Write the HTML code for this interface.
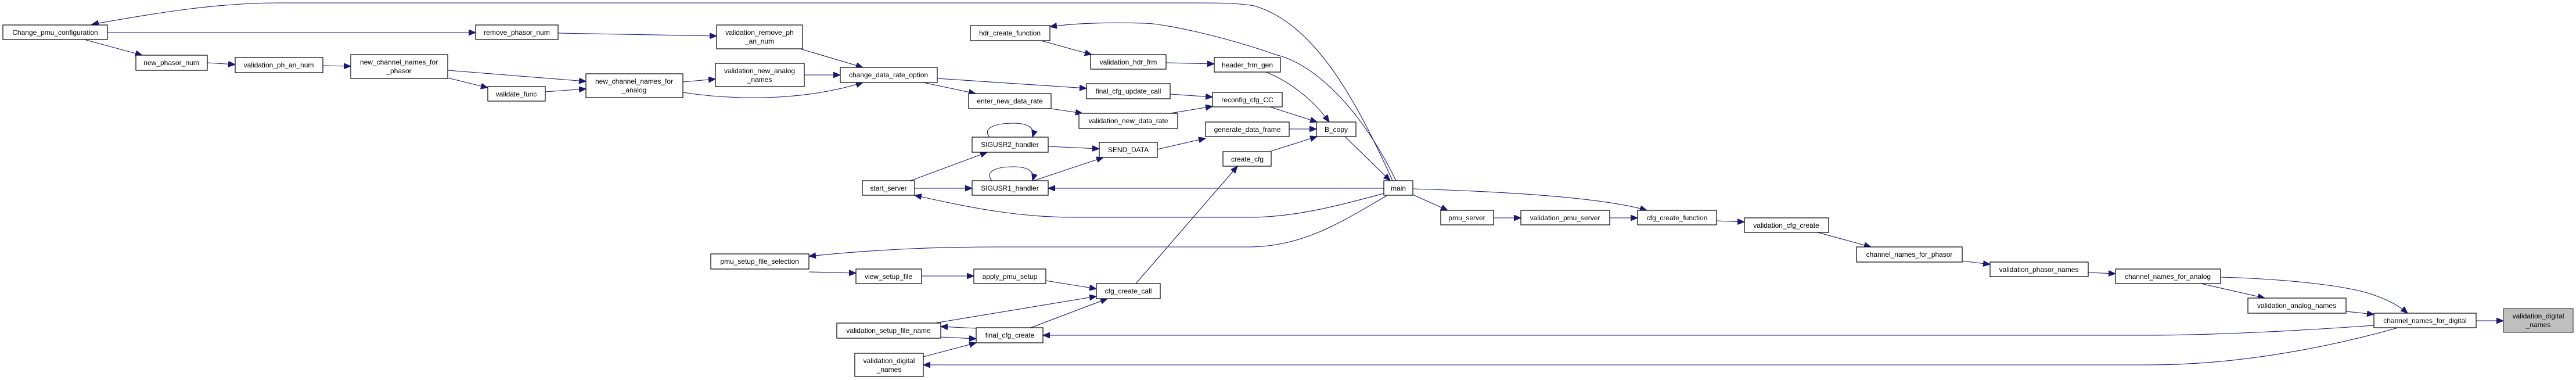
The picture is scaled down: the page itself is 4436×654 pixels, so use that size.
<!DOCTYPE html>
<html><head><meta charset="utf-8"><style>
html,body{margin:0;padding:0;background:#fff;}
svg{display:block;}
text{font-family:"Liberation Sans",Arial,sans-serif;font-size:12px;fill:#000;}
.b{fill:#fff;stroke:#000;stroke-width:1.2;}
.g{fill:#bfbfbf;stroke:#404040;stroke-width:1.2;}
path{fill:none;stroke:#191970;stroke-width:1.1;}
</style></head><body>
<svg width="4436" height="654" viewBox="0 0 4436 654" xmlns="http://www.w3.org/2000/svg">
<defs><marker id="a" markerUnits="userSpaceOnUse" markerWidth="14" markerHeight="12" refX="12" refY="5" orient="auto"><path d="M0,0 L12,5 L0,10 Z" style="fill:#191970;stroke:#191970;stroke-width:1"/></marker></defs>
<rect width="4436" height="654" fill="#fff"/>
<g marker-end="url(#a)">
<path d="M2398,311 C2330,160 2260,40 2160,10 C2130,5 2100,5 2060,5 L480,5 C380,5 280,20 158,42"/>
<path d="M185,56 L819,56"/>
<path d="M145,68 L245,95"/>
<path d="M357,108 L405,111"/>
<path d="M556,113 L604,114"/>
<path d="M771,121 L1009,140"/>
<path d="M771,134 L840,151"/>
<path d="M939,158 L1009,153"/>
<path d="M961,57 L1234,62"/>
<path d="M1378,84 L1486,116"/>
<path d="M1176,141 L1232,136"/>
<path d="M1385,129 L1447,129"/>
<path d="M1176,159 C1260,172 1380,175 1486,142"/>
<path d="M1614,135 L1871,152"/>
<path d="M1590,142 L1680,161"/>
<path d="M1810,187 L1864,195"/>
<path d="M2404,311 C2340,180 2260,110 2200,95 C2100,60 2000,40 1970,40 C1900,38 1850,40 1808,46"/>
<path d="M1793,70 L1880,94"/>
<path d="M2008,108 L2091,110"/>
<path d="M2180,124 C2220,140 2260,170 2289,210"/>
<path d="M2015,162 L2088,167"/>
<path d="M2015,195 L2088,183"/>
<path d="M2187,184 L2268,210"/>
<path d="M2220,222 L2267,222"/>
<path d="M2189,260 L2268,235"/>
<path d="M2316,235 L2394,311"/>
<path d="M1993,257 L2076,238"/>
<path d="M1805,252 L1893,256"/>
<path d="M1780,311 L1900,271"/>
<path d="M1568,311 L1700,262"/>
<path d="M1575,324 L1674,324"/>
<path d="M2383,324 L1805,324"/>
<path d="M2383,333 C2300,355 2230,374 2150,374 L1850,374 C1760,374 1680,360 1575,336"/>
<path d="M2388,337 C2320,375 2250,425 2150,425 L1720,425 C1600,425 1500,430 1393,441"/>
<path d="M2433,335 L2493,362"/>
<path d="M2572,375 L2619,375"/>
<path d="M2772,375 L2820,375"/>
<path d="M2433,325 C2600,330 2760,340 2836,362"/>
<path d="M2956,380 L3004,382"/>
<path d="M3130,400 L3222,425"/>
<path d="M3379,449 L3427,455"/>
<path d="M3596,469 L3643,471"/>
<path d="M3824,477 C3930,480 4030,490 4080,505 C4110,515 4130,525 4146,539"/>
<path d="M3790,488 L3900,513"/>
<path d="M4040,536 L4088,541"/>
<path d="M4264,552 L4311,552"/>
<path d="M4088,560 C3950,570 3800,577 3700,577 L1796,577"/>
<path d="M4130,564 C4000,600 3850,628 3700,628 L1590,628"/>
<path d="M1393,468 L1474,470"/>
<path d="M1587,475 L1677,475"/>
<path d="M1801,483 L1888,497"/>
<path d="M1956,488 L2131,286"/>
<path d="M1681,565 L1620,562"/>
<path d="M1620,580 L1681,583"/>
<path d="M1610,556 L1888,510"/>
<path d="M1775,564 L1907,514"/>
<path d="M1590,614 L1681,590"/>
<path d="M1704,236 C1690,218 1720,212 1745,212 C1770,212 1783,220 1778,236"/>
<path d="M1708,311 C1694,293 1720,287 1745,287 C1770,287 1783,295 1778,311"/>
</g>
<g>
<rect class="b" x="5" y="43" width="180" height="25"/><text x="95" y="60" text-anchor="middle">Change_pmu_configuration</text>
<rect class="b" x="819" y="43" width="142" height="25"/><text x="890" y="60" text-anchor="middle">remove_phasor_num</text>
<rect class="b" x="234" y="95" width="123" height="26"/><text x="295" y="112" text-anchor="middle">new_phasor_num</text>
<rect class="b" x="405" y="99" width="151" height="26"/><text x="480" y="116" text-anchor="middle">validation_ph_an_num</text>
<rect class="b" x="604" y="94" width="167" height="41"/><text x="687" y="111" text-anchor="middle">new_channel_names_for</text><text x="687" y="126" text-anchor="middle">_phasor</text>
<rect class="b" x="840" y="149" width="99" height="25"/><text x="889" y="166" text-anchor="middle">validate_func</text>
<rect class="b" x="1009" y="127" width="167" height="41"/><text x="1092" y="144" text-anchor="middle">new_channel_names_for</text><text x="1092" y="159" text-anchor="middle">_analog</text>
<rect class="b" x="1234" y="43" width="148" height="41"/><text x="1308" y="60" text-anchor="middle">validation_remove_ph</text><text x="1308" y="75" text-anchor="middle">_an_num</text>
<rect class="b" x="1232" y="109" width="153" height="40"/><text x="1308" y="126" text-anchor="middle">validation_new_analog</text><text x="1308" y="141" text-anchor="middle">_names</text>
<rect class="b" x="1447" y="116" width="167" height="26"/><text x="1530" y="133" text-anchor="middle">change_data_rate_option</text>
<rect class="b" x="1671" y="44" width="137" height="26"/><text x="1739" y="61" text-anchor="middle">hdr_create_function</text>
<rect class="b" x="1878" y="94" width="130" height="25"/><text x="1943" y="111" text-anchor="middle">validation_hdr_frm</text>
<rect class="b" x="1871" y="144" width="144" height="26"/><text x="1943" y="161" text-anchor="middle">final_cfg_update_call</text>
<rect class="b" x="1668" y="161" width="142" height="26"/><text x="1739" y="178" text-anchor="middle">enter_new_data_rate</text>
<rect class="b" x="1858" y="195" width="170" height="26"/><text x="1943" y="212" text-anchor="middle">validation_new_data_rate</text>
<rect class="b" x="1674" y="236" width="131" height="26"/><text x="1739" y="253" text-anchor="middle">SIGUSR2_handler</text>
<rect class="b" x="1893" y="245" width="100" height="26"/><text x="1943" y="262" text-anchor="middle">SEND_DATA</text>
<rect class="b" x="1674" y="311" width="131" height="25"/><text x="1739" y="328" text-anchor="middle">SIGUSR1_handler</text>
<rect class="b" x="1485" y="311" width="90" height="25"/><text x="1530" y="328" text-anchor="middle">start_server</text>
<rect class="b" x="1224" y="437" width="169" height="26"/><text x="1308" y="454" text-anchor="middle">pmu_setup_file_selection</text>
<rect class="b" x="1474" y="463" width="113" height="25"/><text x="1530" y="480" text-anchor="middle">view_setup_file</text>
<rect class="b" x="1677" y="463" width="124" height="25"/><text x="1739" y="480" text-anchor="middle">apply_pmu_setup</text>
<rect class="b" x="1888" y="488" width="110" height="26"/><text x="1943" y="505" text-anchor="middle">cfg_create_call</text>
<rect class="b" x="1441" y="556" width="179" height="26"/><text x="1530" y="573" text-anchor="middle">validation_setup_file_name</text>
<rect class="b" x="1681" y="564" width="115" height="26"/><text x="1739" y="581" text-anchor="middle">final_cfg_create</text>
<rect class="b" x="1472" y="608" width="118" height="40"/><text x="1531" y="625" text-anchor="middle">validation_digital</text><text x="1531" y="640" text-anchor="middle">_names</text>
<rect class="b" x="2091" y="99" width="114" height="25"/><text x="2148" y="116" text-anchor="middle">header_frm_gen</text>
<rect class="b" x="2088" y="159" width="120" height="25"/><text x="2148" y="176" text-anchor="middle">reconfig_cfg_CC</text>
<rect class="b" x="2076" y="210" width="144" height="25"/><text x="2148" y="227" text-anchor="middle">generate_data_frame</text>
<rect class="b" x="2267" y="210" width="68" height="25"/><text x="2301" y="227" text-anchor="middle">B_copy</text>
<rect class="b" x="2106" y="261" width="83" height="25"/><text x="2148" y="278" text-anchor="middle">create_cfg</text>
<rect class="b" x="2383" y="311" width="50" height="25"/><text x="2408" y="328" text-anchor="middle">main</text>
<rect class="b" x="2481" y="362" width="91" height="25"/><text x="2526" y="379" text-anchor="middle">pmu_server</text>
<rect class="b" x="2619" y="362" width="153" height="25"/><text x="2695" y="379" text-anchor="middle">validation_pmu_server</text>
<rect class="b" x="2820" y="362" width="136" height="25"/><text x="2888" y="379" text-anchor="middle">cfg_create_function</text>
<rect class="b" x="3004" y="375" width="145" height="25"/><text x="3076" y="392" text-anchor="middle">validation_cfg_create</text>
<rect class="b" x="3197" y="425" width="182" height="26"/><text x="3288" y="442" text-anchor="middle">channel_names_for_phasor</text>
<rect class="b" x="3427" y="451" width="169" height="25"/><text x="3511" y="468" text-anchor="middle">validation_phasor_names</text>
<rect class="b" x="3643" y="463" width="181" height="25"/><text x="3733" y="480" text-anchor="middle">channel_names_for_analog</text>
<rect class="b" x="3871" y="513" width="169" height="26"/><text x="3955" y="530" text-anchor="middle">validation_analog_names</text>
<rect class="b" x="4088" y="539" width="176" height="25"/><text x="4176" y="556" text-anchor="middle">channel_names_for_digital</text>
<rect class="g" x="4311" y="531" width="120" height="41"/><text x="4371" y="548" text-anchor="middle">validation_digital</text><text x="4371" y="563" text-anchor="middle">_names</text>
</g>
</svg>
</body></html>
